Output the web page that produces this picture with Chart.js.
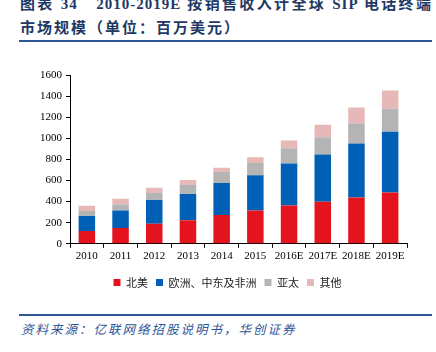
<!DOCTYPE html>
<html>
<head>
<meta charset="utf-8">
<script src="https://cdn.jsdelivr.net/npm/chart.js@4.4.0/dist/chart.umd.min.js"></script>
<style>
  html, body { margin: 0; padding: 0; background: #fff; }
  body { width: 436px; height: 352px; position: relative; overflow: hidden; }
  .title { position: absolute; left: 20px; width: 412px; color: #1f3864; font-weight: bold;
    font-family: "Liberation Serif", "Noto Sans CJK SC", serif; font-size: 15px; line-height: 20px; white-space: nowrap; }
  .t1 { top: -6px; text-align: justify; text-align-last: justify; letter-spacing: 1px; }
  .t2 { top: 18px; letter-spacing: 2px; }
  .rule { position: absolute; left: 19px; width: 413px; background: #2f5597; }
  .src { position: absolute; left: 21px; top: 319px; color: #2f5597; font-style: italic;
    font-family: "Noto Sans CJK SC", sans-serif; font-size: 12.5px; letter-spacing: 2px; white-space: nowrap; }
  #wrap { position: absolute; left: 0; top: 50px; width: 436px; height: 260px; }
</style>
</head>
<body>
<div class="title t1">图表 34&nbsp;&nbsp;&nbsp;2010-2019E 按销售收入计全球 SIP 电话终端</div>
<div class="title t2">市场规模（单位：百万美元）</div>
<div class="rule" style="top:40px;height:2px;"></div>
<div id="wrap"><canvas id="myChart" width="436" height="260"></canvas></div>
<div class="rule" style="top:314px;height:1.5px;"></div>
<div class="src">资料来源：亿联网络招股说明书，华创证券</div>
<script>
  var years = ['2010', '2011', '2012', '2013', '2014', '2015', '2016E', '2017E', '2018E', '2019E'];
  var northAmerica = [121, 150, 191, 223, 274, 315, 363, 398, 439, 487];
  var emea = [143, 166, 223, 248, 302, 334, 397, 448, 512, 576];
  var asiaPacific = [48, 57, 67, 86, 105, 118, 146, 165, 191, 216];
  var others = [48, 54, 51, 48, 41, 54, 73, 118, 149, 175];

  var serif = "'Liberation Serif', 'Times New Roman', serif";

  // nudge the legend a bit to the right, the reference centres it on the page not the chart
  var legendShift = {
    id: 'legendShift',
    afterLayout: function (chart) {
      if (chart.legend) {
        chart.legend.left += 24;
        chart.legend.right += 24;
      }
    }
  };

  var ctx = document.getElementById('myChart').getContext('2d');
  var chart = new Chart(ctx, {
    type: 'bar',
    data: {
      labels: years,
      datasets: [
        { label: '北美', data: northAmerica, backgroundColor: '#e3141e' },
        { label: '欧洲、中东及非洲', data: emea, backgroundColor: '#0060b6' },
        { label: '亚太', data: asiaPacific, backgroundColor: '#b4b4b4' },
        { label: '其他', data: others, backgroundColor: '#e6b9b8' }
      ]
    },
    plugins: [legendShift],
    options: {
      responsive: false,
      animation: false,
      maintainAspectRatio: false,
      layout: { padding: { top: 25, right: 29, bottom: 12, left: 0 } },
      datasets: { bar: { categoryPercentage: 1, barPercentage: 0.49, borderWidth: 0 } },
      scales: {
        x: {
          stacked: true,
          afterFit: function (scale) { scale.height += 4; },
          grid: { drawOnChartArea: false, drawTicks: true, tickLength: 4, color: '#000' },
          border: { color: '#000', width: 1 },
          ticks: { color: '#000', font: { family: serif, size: 11 }, padding: 2, maxRotation: 0, autoSkip: false }
        },
        y: {
          stacked: true,
          min: 0,
          max: 1600,
          afterFit: function (scale) { scale.width = 70; },
          grid: { drawOnChartArea: false, drawTicks: true, tickLength: 4, color: '#000' },
          border: { color: '#000', width: 1 },
          ticks: {
            stepSize: 200, color: '#000', font: { family: serif, size: 11 }, padding: 4,
            callback: function (v) { return String(v); }
          }
        }
      },
      plugins: {
        legend: {
          position: 'bottom',
          labels: {
            boxWidth: 7,
            boxHeight: 7,
            padding: 8,
            color: '#222',
            font: { family: "'Noto Sans CJK SC', sans-serif", size: 11 }
          }
        },
        tooltip: { enabled: false }
      }
    }
  });
</script>
</body>
</html>
